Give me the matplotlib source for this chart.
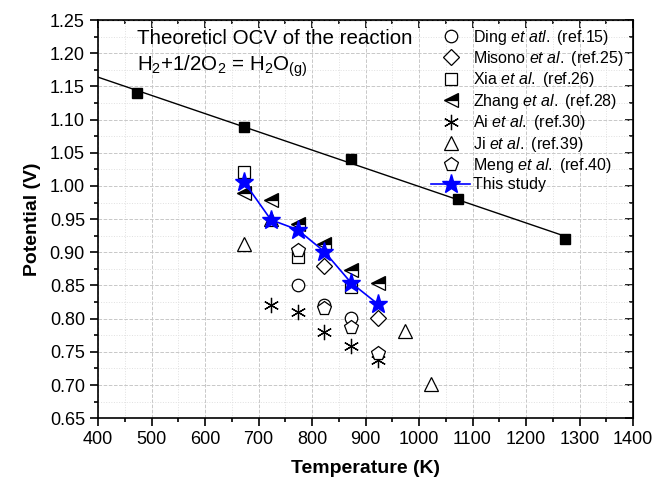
import numpy as np
import matplotlib
matplotlib.use("Agg")
import matplotlib.pyplot as plt
from matplotlib.ticker import MultipleLocator, NullFormatter

plt.rcParams['font.family'] = ['Liberation Sans', 'DejaVu Sans']
plt.rcParams['mathtext.fontset'] = 'custom'
plt.rcParams['mathtext.rm'] = 'Liberation Sans'
plt.rcParams['mathtext.it'] = 'Liberation Sans:italic'

# theoretical OCV
theo_T = [473, 673, 873, 1073, 1273]
theo_V = [1.14, 1.089, 1.041, 0.98, 0.92]

# literature data
ding_T = [773, 823, 873]
ding_V = [0.851, 0.821, 0.801]
misono_T = [823, 923]
misono_V = [0.880, 0.801]
xia_T = [673, 773, 873]
xia_V = [1.021, 0.893, 0.848]
zhang_T = [673, 723, 773, 823, 873, 923]
zhang_V = [0.990, 0.979, 0.943, 0.913, 0.873, 0.854]
ai_T = [723, 773, 823, 873, 923]
ai_V = [0.821, 0.810, 0.780, 0.759, 0.738]
ji_T = [673, 723, 973, 1023]
ji_V = [0.913, 0.950, 0.782, 0.702]
meng_T = [773, 823, 873, 923]
meng_V = [0.903, 0.816, 0.788, 0.748]
study_T = [673, 723, 773, 823, 873, 923]
study_V = [1.006, 0.949, 0.934, 0.901, 0.854, 0.822]

fig = plt.figure(figsize=(6.72, 4.88), dpi=100)
ax = fig.add_axes([0.146, 0.143, 0.796, 0.816])

# fitted line for theoretical values
k, b = np.polyfit(theo_T, theo_V, 1)
xx = np.array([400, theo_T[-1]])
ax.plot(xx, k * xx + b, color='black', lw=1.0, zorder=2)
ax.plot(theo_T, theo_V, 's', color='black', ms=7, zorder=3)

open_kw = dict(linestyle='none', markerfacecolor='white', markeredgecolor='black',
               markeredgewidth=0.9, color='black')
ax.plot(ding_T, ding_V, 'o', ms=9, label=r'Ding $\it{et\ atl.}$ (ref.15)', **open_kw)
ax.plot(misono_T, misono_V, 'D', ms=8, label=r'Misono $\it{et\ al.}$ (ref.25)', **open_kw)
ax.plot(xia_T, xia_V, 's', ms=9, label=r'Xia $\it{et\ al.}$ (ref.26)', **open_kw)
ax.plot(zhang_T, zhang_V, '<', ms=10, linestyle='none', color='black',
        fillstyle='top', markerfacecolor='black', markerfacecoloralt='white',
        markeredgecolor='black', markeredgewidth=0.9, label=r'Zhang $\it{et\ al.}$ (ref.28)')
ax.plot(ai_T, ai_V, linestyle='none', marker=(6, 2, 0), ms=11, color='black',
        markeredgewidth=0.9, label=r'Ai $\it{et\ al.}$ (ref.30)')
ax.plot(ji_T, ji_V, '^', ms=10, label=r'Ji $\it{et\ al.}$ (ref.39)', **open_kw)
ax.plot(meng_T, meng_V, 'p', ms=10, label=r'Meng $\it{et\ al.}$ (ref.40)', **open_kw)
ax.plot(study_T, study_V, '-*', color='blue', lw=1.2, ms=14, label='This study', zorder=5)

ax.set_xlim(400, 1400)
ax.set_ylim(0.65, 1.25)
ax.xaxis.set_major_locator(MultipleLocator(100))
ax.xaxis.set_minor_locator(MultipleLocator(50))
ax.yaxis.set_major_locator(MultipleLocator(0.05))
ax.yaxis.set_minor_locator(MultipleLocator(0.025))
ax.yaxis.set_major_formatter(plt.FormatStrFormatter('%.2f'))
ax.grid(which='major', color='#c8c8c8', linestyle='--', lw=0.7)
ax.grid(which='minor', color='#e0e0e0', linestyle=':', lw=0.7)
ax.set_axisbelow(True)

ax.tick_params(which='both', direction='out', labelsize=13, width=1.2)
ax.tick_params(which='major', length=6)
ax.tick_params(which='minor', length=3)
for s in ax.spines.values():
    s.set_linewidth(1.2)

top = ax.secondary_xaxis('top')
top.xaxis.set_major_locator(MultipleLocator(100))
top.xaxis.set_minor_locator(MultipleLocator(50))
top.xaxis.set_major_formatter(NullFormatter())
top.tick_params(which='both', direction='in', width=1.2)
top.tick_params(which='major', length=6)
top.tick_params(which='minor', length=3)
right = ax.secondary_yaxis('right')
right.yaxis.set_major_locator(MultipleLocator(0.05))
right.yaxis.set_minor_locator(MultipleLocator(0.025))
right.yaxis.set_major_formatter(NullFormatter())
right.tick_params(which='both', direction='in', width=1.2)
right.tick_params(which='major', length=6)
right.tick_params(which='minor', length=3)

ax.set_xlabel('Temperature (K)', fontsize=14, fontweight='bold', labelpad=8)
ax.set_ylabel('Potential (V)', fontsize=14, fontweight='bold', labelpad=6)

ax.text(0.073, 0.94, 'Theoreticl OCV of the reaction', transform=ax.transAxes,
        fontsize=14.8, va='baseline')
ax.text(0.073, 0.872, r'H$_2$+1/2O$_2$ = H$_2$O$_{\mathrm{(g)}}$', transform=ax.transAxes,
        fontsize=14.8, va='baseline')

ax.legend(loc='upper right', bbox_to_anchor=(1.0, 1.005), frameon=False, fontsize=11.5,
          handlelength=2.4, handletextpad=0.2, labelspacing=0.15, borderaxespad=0.2)

fig.savefig('out.png', dpi=100)
